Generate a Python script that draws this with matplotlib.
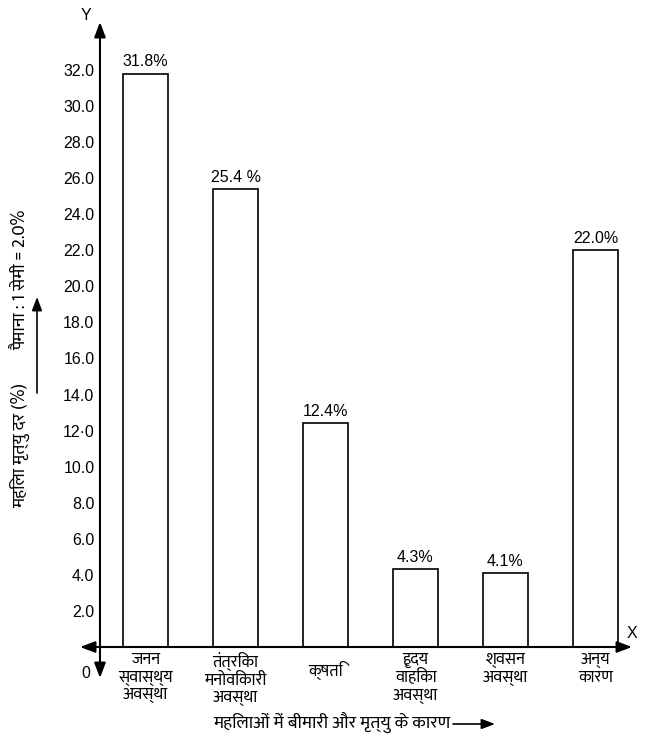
import matplotlib
matplotlib.use('Agg')
import matplotlib.pyplot as plt
from matplotlib.patches import FancyArrowPatch

# data
categories = ["जनन\nस्वास्थ्य\nअवस्था", "तंत्रिका\nमनोविकारी\nअवस्था", "क्षति",
              "हृदय\nवाहिका\nअवस्था", "श्वसन\nअवस्था", "अन्य\nकारण"]
values = [31.8, 25.4, 12.4, 4.3, 4.1, 22.0]
value_labels = ["31.8%", "25.4 %", "12.4%", "4.3%", "4.1%", "22.0%"]
yticks = [2, 4, 6, 8, 10, 12, 14, 16, 18, 20, 22, 24, 26, 28, 30, 32]
ytick_labels = ["2.0", "4.0", "6.0", "8.0", "10.0", "12·0", "14.0", "16.0",
                "18.0", "20.0", "22.0", "24.0", "26.0", "28.0", "30.0", "32.0"]
ylabel = "महिला मृत्यु दर (%)"
scale_text = "पैमाना : 1 सेमी = 2.0%"
xlabel = "महिलाओं में बीमारी और मृत्यु के कारण"

plt.rcParams['font.family'] = ['Liberation Sans', 'DejaVu Sans']
hindi = 'Mukta'  # single family so the shaping stays in one font

W, H = 651, 741
fig = plt.figure(figsize=(W / 100, H / 100), dpi=100)
ax = fig.add_axes([80 / W, (H - 647) / H, 552 / W, 625 / H])
ymax = 34.66
ax.set_xlim(-0.728, 5.406)
ax.set_ylim(0, ymax)
yx = -0.506  # where the y axis crosses

x = list(range(len(values)))
bars = ax.bar(x, values, width=0.5, color='white', edgecolor='black', linewidth=1.2)
ax.bar_label(bars, labels=value_labels, padding=3, fontsize=11.5)

for s in ax.spines.values():
    s.set_visible(False)
ax.spines['left'].set_position(('data', yx))
ax.set_xticks([])
ax.set_yticks(yticks, ytick_labels)
ax.tick_params(axis='y', length=0, pad=4, labelsize=11.5)

arrow = dict(arrowstyle='<|-|>,head_length=0.45,head_width=0.17', color='black',
             lw=1.5, shrinkA=0, shrinkB=0, mutation_scale=20)
ax.annotate('', xy=(yx, ymax), xytext=(yx, -1.72), arrowprops=arrow, annotation_clip=False)
ax.annotate('', xy=(5.406, 0), xytext=(-0.728, 0), arrowprops=arrow, annotation_clip=False)

# category labels under the bars
for i, lab in enumerate(categories):
    off = -0.3 if '\n' in lab else -0.8
    ax.text(i, off, lab, ha='center', va='top', fontsize=12, linespacing=1.1,
            family=hindi)

fig.text(86 / W, 1 - 15 / H, "Y", ha='center', va='center', fontsize=11.5)
fig.text(632 / W, 1 - 633 / H, "X", ha='center', va='center', fontsize=11.5)
fig.text(86 / W, 1 - 674 / H, "0", ha='center', va='center', fontsize=11.5)

fig.text(21 / W, 1 - 508 / H, ylabel, rotation=90, ha='center', va='bottom',
         fontsize=13, family=hindi)
fig.text(21 / W, 1 - 210 / H, scale_text, rotation=90, ha='center', va='top',
         fontsize=13, family=hindi)
one = dict(arrowstyle='-|>,head_length=0.45,head_width=0.17', color='black',
           lw=1.2, shrinkA=0, shrinkB=0, mutation_scale=18)
fig.add_artist(FancyArrowPatch((37, H - 393), (37, H - 297), transform=None, **one))
fig.text(450 / W, 1 - 723 / H, xlabel, ha='right', va='center', fontsize=13, family=hindi)
fig.add_artist(FancyArrowPatch((453, H - 724), (495, H - 724), transform=None, **one))

fig.savefig('out.png', dpi=100, facecolor='white')
